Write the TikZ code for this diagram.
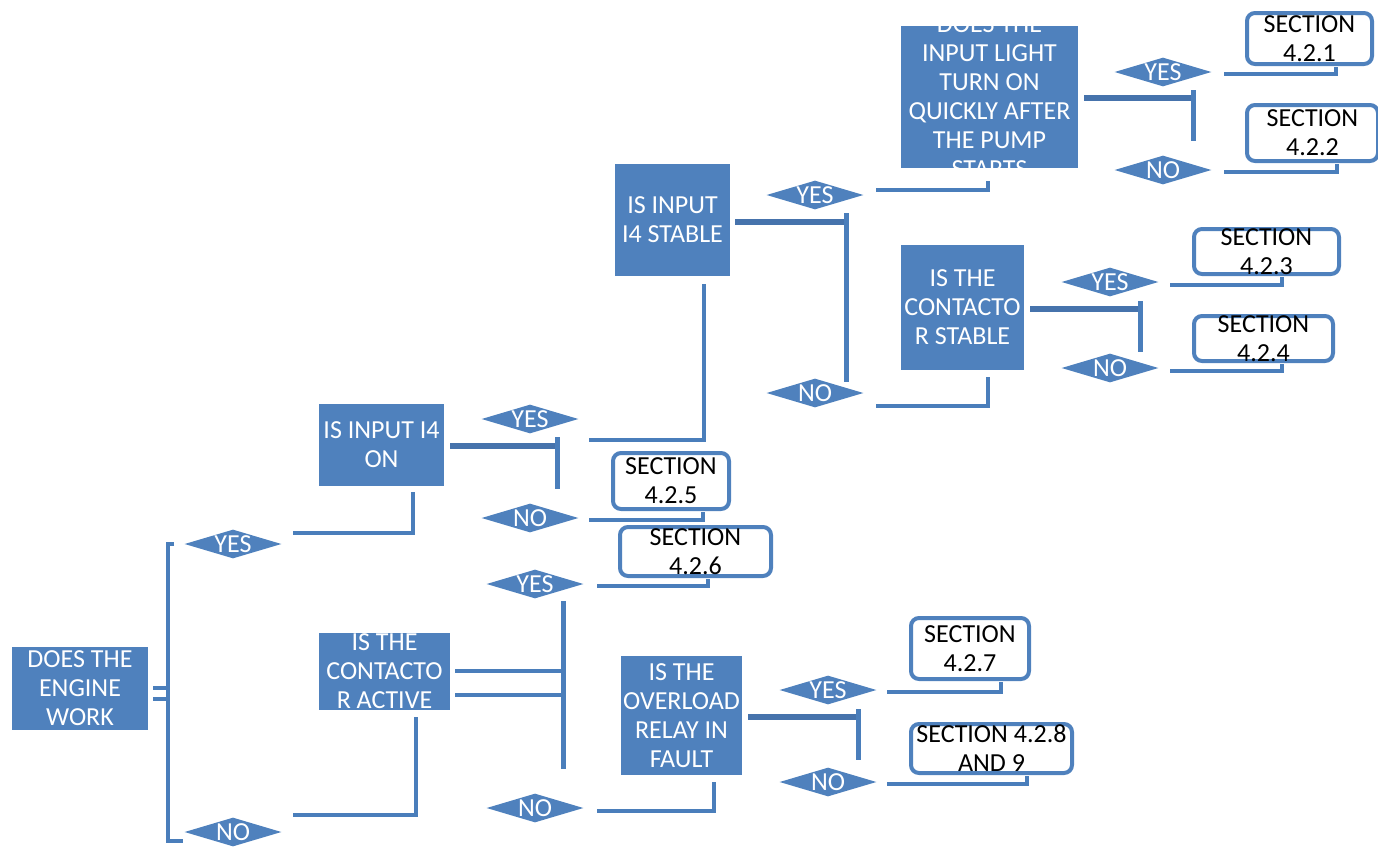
\documentclass[tikz,border=0pt]{standalone}
\usepackage{fontspec}
\setmainfont{Carlito}
\usetikzlibrary{shapes.geometric,fit}
\definecolor{boxblue}{HTML}{4F81BD}
\definecolor{lineblue}{HTML}{4A7EBB}
\definecolor{stemblue}{HTML}{4673AC}

\begin{document}
\begin{tikzpicture}[x=0.5pt,y=-0.5pt,
  qtext/.style={text=white, align=center, font=\fontsize{13}{14.5}\selectfont, inner sep=0pt},
  stext/.style={text=black, align=center, font=\fontsize{13}{14.5}\selectfont, inner sep=0pt},
  qbox/.style={rectangle, fill=boxblue, inner sep=0pt},
  secbox/.style={rectangle, draw=boxblue, line width=2pt, rounded corners=4pt,
    fill=white, inner sep=0pt, label={[stext]center:#1}},
  answer/.style={diamond, fill=boxblue, minimum width=48.5pt, minimum height=14.5pt,
    inner sep=0pt, label={[qtext]center:#1}},
  conn/.style={draw=lineblue, line width=2pt},
  stem/.style={draw=stemblue, line width=3pt},
  bar/.style={draw=lineblue, line width=2.4pt}
]
\useasboundingbox (0,0) rectangle (1378,847);

% question boxes
\node[qbox, fit={(12,647) (148,730)}] (a) {};
\node[qbox, fit={(319,404) (444,486)}] (b) {};
\node[qbox, fit={(615,164) (730,276)}] (c) {};
\node[qbox, fit={(901,26) (1078,168)}] (d) {};
\node[qbox, fit={(901,245) (1024,370)}] (e) {};
\node[qbox, fit={(319,633) (450,710)}] (f) {};
\node[qbox, fit={(621,656) (742,775)}] (g) {};

% question texts (the longer ones are cut off by their box)
\node[qtext] (at) at (a.center) {DOES THE\\ENGINE\\WORK};
\node[qtext] (bt) at (b.center) {IS INPUT I4\\ON};
\node[qtext] (ct) at (c.center) {IS INPUT\\I4 STABLE};
\node[qtext] (et) at (e.center) {IS THE\\CONTACTO\\R STABLE};
\node[qtext] (gt) at (g.center) {IS THE\\OVERLOAD\\RELAY IN\\FAULT};
\begin{scope}
  \clip (d.north west) rectangle (d.south east);
  \node[qtext] (dt) at (d.center) {DOES THE\\INPUT LIGHT\\TURN ON\\QUICKLY AFTER\\THE PUMP\\STARTS};
\end{scope}
\begin{scope}
  \clip (f.north west) rectangle (f.south east);
  \node[qtext] (ft) at (f.center) {IS THE\\CONTACTO\\R ACTIVE};
\end{scope}

% answer diamonds
\node[answer=YES] (y1) at (1163,72) {};
\node[answer=NO]  (n1) at (1163,170) {};
\node[answer=YES] (y2) at (815,195) {};
\node[answer=NO]  (n2) at (815,393) {};
\node[answer=YES] (y3) at (1110,282) {};
\node[answer=NO]  (n3) at (1110,368) {};
\node[answer=YES] (y4) at (530,419) {};
\node[answer=NO]  (n4) at (530,518) {};
\node[answer=YES] (y5) at (233,544) {};
\node[answer=NO]  (n5) at (233,832) {};
\node[answer=YES] (y6) at (535,584) {};
\node[answer=NO]  (n6) at (535,808) {};
\node[answer=YES] (y7) at (828,690) {};
\node[answer=NO]  (n7) at (828,782) {};

% section boxes
\node[secbox={SECTION\\4.2.1}, fit={(1247,13) (1372,64)}] (s1) {};
\node[secbox={SECTION\\4.2.2}, fit={(1247,105) (1378,161)}] (s2) {};
\node[secbox={SECTION\\4.2.3}, fit={(1194,229) (1339,274)}] (s3) {};
\node[secbox={SECTION\\4.2.4}, fit={(1194,316) (1333,361)}] (s4) {};
\node[secbox={SECTION\\4.2.5}, fit={(613,453) (729,509)}] (s5) {};
\node[secbox={SECTION\\4.2.6}, fit={(620,527) (771,576)}] (s6) {};
\node[secbox={SECTION\\4.2.7}, fit={(911,618) (1029,679)}] (s7) {};
\node[secbox={SECTION 4.2.8\\AND 9}, fit={(911,724) (1072,773)}] (s8) {};

% engine question: double stub and the yes/no bracket
\draw[conn] ([shift={(5,-0.5)}]a.east) -- ++(15,0);
\draw[conn] ([shift={(5,10.5)}]a.east) -- ++(15,0);
\draw[conn] ([shift={(-10,0)}]y5.west) -| ([shift={(-16,9)}]n5.west) -- ([shift={(-1,9)}]n5.west);

% answers leading to the next questions
\draw[conn] ([shift={(11.5,-11)}]y5.east) -| ([shift={(31.5,6)}]b.south);
\draw[conn] ([shift={(11.5,-17)}]n5.east) -| ([shift={(31.5,7)}]f.south);
\draw[conn] ([shift={(10.5,21)}]y4.east) -| ([shift={(31.5,8)}]c.south);
\draw[conn] ([shift={(12.5,-5)}]y2.east) -| ([shift={(-1.5,13)}]d.south);
\draw[conn] ([shift={(12.5,13)}]n2.east) -| ([shift={(25.5,7)}]e.south);
\draw[conn] ([shift={(13.5,3)}]n6.east) -| ([shift={(32.5,7)}]g.south);

% answers leading to sections
\draw[conn] ([shift={(12.5,2)}]y1.east) -| ([shift={(26.5,1)}]s1.south);
\draw[conn] ([shift={(12.5,2)}]n1.east) -| ([shift={(24.5,1)}]s2.south);
\draw[conn] ([shift={(11.5,3)}]y3.east) -| ([shift={(15.5,1)}]s3.south);
\draw[conn] ([shift={(11.5,3)}]n3.east) -| ([shift={(18.5,1)}]s4.south);
\draw[conn] ([shift={(10.5,2)}]n4.east) -| ([shift={(32,1)}]s5.south);
\draw[conn] ([shift={(13.5,2)}]y6.east) -| ([shift={(12.5,1)}]s6.south);
\draw[conn] ([shift={(10.5,2)}]y7.east) -| ([shift={(31,1)}]s7.south);
\draw[conn] ([shift={(10.5,2)}]n7.east) -| ([shift={(35.5,1)}]s8.south);

% question stems with their T bars
\draw[stem] ([shift={(6,1)}]b.east) -- ++(109,0);
\draw[bar]  ([shift={(113,-8)}]b.east) -- ++(0,52);
\draw[stem] ([shift={(5,2)}]c.east) -- ++(113,0);
\draw[bar]  ([shift={(116,-7)}]c.east) -- ++(0,169);
\draw[stem] ([shift={(6,1)}]d.east) -- ++(111,0);
\draw[bar]  ([shift={(115,-7)}]d.east) -- ++(0,51);
\draw[stem] ([shift={(6,1.5)}]e.east) -- ++(111,0);
\draw[bar]  ([shift={(116,-6.5)}]e.east) -- ++(0,51);
\draw[stem] ([shift={(6,1.5)}]g.east) -- ++(111,0);
\draw[bar]  ([shift={(116,-6.5)}]g.east) -- ++(0,51);
\draw[conn] ([shift={(5,-0.5)}]f.east) -- ++(110,0);
\draw[conn] ([shift={(5,23.5)}]f.east) -- ++(110,0);
\draw[bar]  ([shift={(113,-70.5)}]f.east) -- ++(0,168);
\end{tikzpicture}
\end{document}
